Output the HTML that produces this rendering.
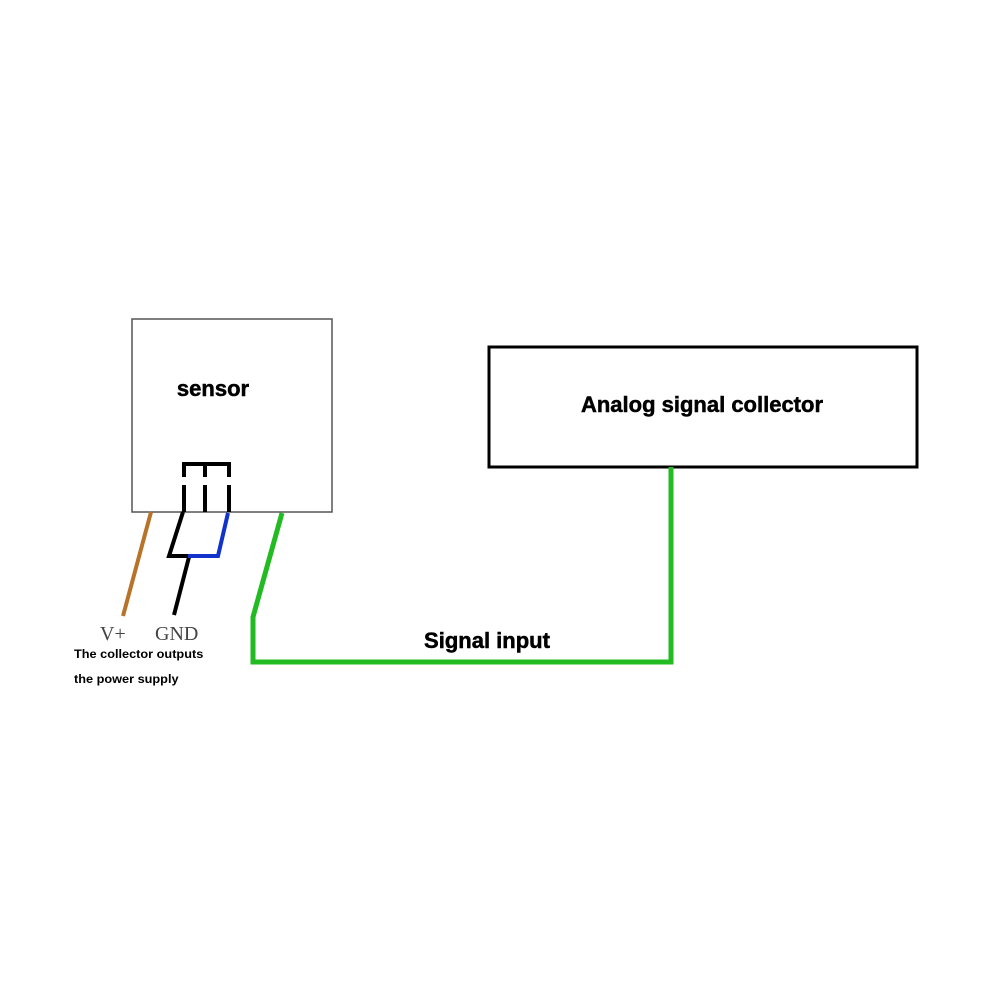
<!DOCTYPE html>
<html><head><style>
body{margin:0;background:#fff;}
svg{display:block;}
</style></head><body>
<svg width="1000" height="1000" xmlns="http://www.w3.org/2000/svg">
<rect x="0" y="0" width="1000" height="1000" fill="#fff"/>
<rect x="132" y="319" width="200" height="193" fill="none" stroke="#555" stroke-width="1.5"/>
<text x="213" y="396" font-family="Liberation Sans, sans-serif" font-weight="bold" font-size="22" text-anchor="middle" stroke="#000" stroke-width="0.5">sensor</text>
<rect x="489" y="347" width="428" height="120" fill="none" stroke="#000" stroke-width="3"/>
<text x="702" y="412" font-family="Liberation Sans, sans-serif" font-weight="bold" font-size="22" text-anchor="middle" stroke="#000" stroke-width="0.5">Analog signal collector</text>
<g stroke="#000" stroke-width="4" fill="none">
<path d="M184 477 V464 H229 V477"/>
<line x1="205" y1="464" x2="205" y2="477"/>
<line x1="184" y1="485" x2="184" y2="512"/>
<line x1="205" y1="485" x2="205" y2="512"/>
<line x1="229" y1="485" x2="229" y2="512"/>
<path d="M183 512 L169 556 H190"/>
<path d="M189 557 L174 615"/>
</g>
<path d="M188 556 H218 L228 513" stroke="#1133cc" stroke-width="4" fill="none"/>
<path d="M151 512 L123 616" stroke="#b8732a" stroke-width="4" fill="none"/>
<path d="M282 513 L253 617 V662 H671 V467" stroke="#22bb22" stroke-width="5" fill="none"/>
<text x="100" y="640" font-family="Liberation Serif, serif" font-size="20" fill="#444">V+</text>
<text x="155" y="640" font-family="Liberation Serif, serif" font-size="20" fill="#444">GND</text>
<g transform="translate(74 0) scale(1.06 1) translate(-74 0)">
<text x="74" y="658" font-family="Liberation Sans, sans-serif" font-weight="bold" font-size="12">The collector outputs</text>
<text x="74" y="683" font-family="Liberation Sans, sans-serif" font-weight="bold" font-size="12">the power supply</text>
</g>
<text x="487" y="648" font-family="Liberation Sans, sans-serif" font-weight="bold" font-size="22" text-anchor="middle" stroke="#000" stroke-width="0.5">Signal input</text>
</svg>
</body></html>
